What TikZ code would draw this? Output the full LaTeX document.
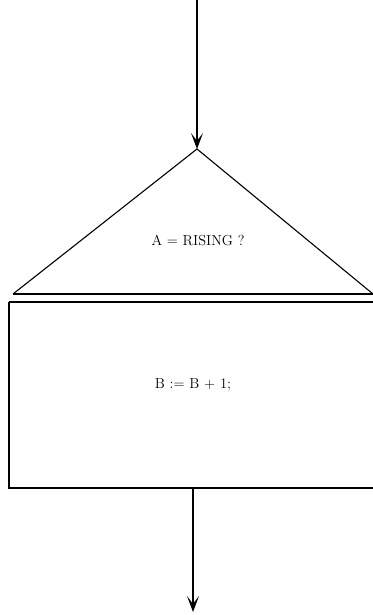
\documentclass[tikz,border=0pt]{standalone}
\usetikzlibrary{arrows.meta}
\begin{document}
\begin{tikzpicture}[x=1pt,y=1pt,line width=1.1pt,
  flow/.style={-{Stealth[length=16pt,width=12pt,inset=8pt]}},
  lbl/.style={inner sep=0pt,font=\fontsize{14.5}{17}\selectfont}]
\useasboundingbox (0,0) rectangle (372,615);
\coordinate (top) at (197,615);
\coordinate (apex) at (197,466);
\coordinate (tl) at (13,321);
\coordinate (tr) at (373,321);
\coordinate (bl) at (9,313);
\coordinate (br) at (373,313);
\coordinate (boxbl) at (9,127);
\coordinate (boxbr) at (373,127);
\coordinate (out) at (193,127);
\coordinate (end) at (193,3);
\node[lbl] (cond) at (198,375) {A = RISING ?};
\node[lbl] (act) at (193,230) {B := B + 1;};
\draw[flow] (top) -- (apex);
\draw (tl) -- (apex) -- (tr);
\draw (tl) -- (tr);
\draw (bl) -- (br);
\draw (bl) -- (boxbl) -- (boxbr);
\draw[flow] (out) -- (end);
\end{tikzpicture}
\end{document}
